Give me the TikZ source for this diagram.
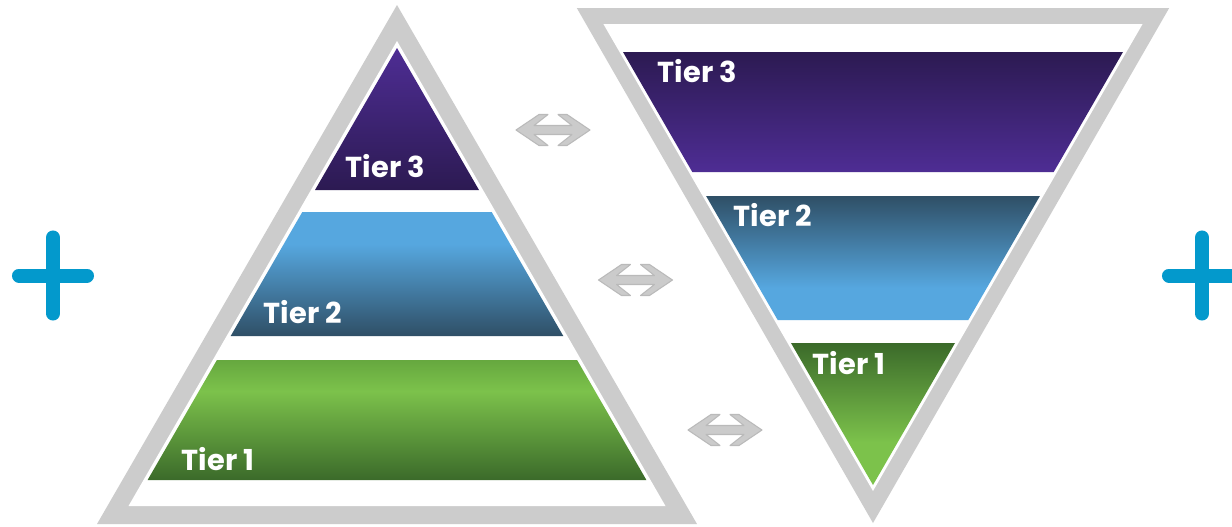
\documentclass[tikz,border=0pt]{standalone}
\usepackage{fontspec}
\newfontfamily\tierfont{Poppins}
\definecolor{framegray}{HTML}{CCCCCC}
\definecolor{arrowgray}{HTML}{CBCBCB}
\definecolor{arrowedge}{HTML}{BABABA}
\definecolor{plusblue}{HTML}{0399CC}
\definecolor{purpleL}{HTML}{4E2D94}
\definecolor{purpleD}{HTML}{2C1A52}
\definecolor{blueL}{HTML}{56A7DF}
\definecolor{blueM}{HTML}{4686B0}
\definecolor{blueD}{HTML}{2F4F66}
\definecolor{greenL}{HTML}{7CC24B}
\definecolor{greenT}{HTML}{66A83F}
\definecolor{greenD}{HTML}{3B6A2A}
\pgfdeclareverticalshading{tieronedown}{100bp}{color(0bp)=(greenD); color(25bp)=(greenD); color(62bp)=(greenL); color(75bp)=(greenT); color(100bp)=(greenT)}
\pgfdeclareverticalshading{tieroneup}{100bp}{color(0bp)=(greenL); color(25bp)=(greenL); color(40bp)=(greenL); color(75bp)=(greenD); color(100bp)=(greenD)}
\pgfdeclareverticalshading{tiertwodown}{100bp}{color(0bp)=(blueD); color(25bp)=(blueD); color(62bp)=(blueL); color(75bp)=(blueL); color(100bp)=(blueL)}
\pgfdeclareverticalshading{tiertwoup}{100bp}{color(0bp)=(blueL); color(25bp)=(blueL); color(38bp)=(blueL); color(75bp)=(blueD); color(100bp)=(blueD)}
\tikzset{
  tierlabel/.style={font=\tierfont\bfseries\fontsize{8.2}{9}\selectfont, text=white, anchor=base west, inner sep=0pt},
  frame/.style={fill=framegray},
  hole/.style={fill=white},
  plusbar/.style={draw=plusblue, line width=0.14cm, line cap=round},
  dblarrow/.pic={
    \filldraw[fill=arrowgray, draw=arrowedge, line width=0.3pt, line join=round]
      (37,0) -- (14,-15.5) -- (5,-15.5) -- (19,-4.5) -- (-19,-4.5) -- (-5,-15.5) -- (-14,-15.5) -- (-37,0)
      -- (-14,15.5) -- (-5,15.5) -- (-19,4.5) -- (19,4.5) -- (5,15.5) -- (14,15.5) -- cycle;
  }
}
\begin{document}
\begin{tikzpicture}[x=0.01cm,y=-0.01cm]
\useasboundingbox (0,0) rectangle (1232,526);
\clip (0,0) rectangle (1232,526);
\fill[white] (0,0) rectangle (1232,526);

% ---------- left pyramid ----------
\fill[frame] (397,5) -- (697,524) -- (97,524) -- cycle;
\fill[hole] (397,41) -- (665.5,506) -- (128.5,506) -- cycle;
\shade[top color=purpleL, bottom color=purpleD] (397,48) -- (479,190) -- (315,190) -- cycle;
\shade[shading=tiertwodown] (302.3,212) -- (491.7,212) -- (563.3,336) -- (230.7,336) -- cycle;
\shade[shading=tieronedown] (216.9,360) -- (577.1,360) -- (646.4,480) -- (147.6,480) -- cycle;
\node[tierlabel] (l3) at (345,177) {Tier 3};
\node[tierlabel] (l2) at (263,323) {Tier 2};
\node[tierlabel] (l1) at (181,470) {Tier 1};

% ---------- right inverted pyramid ----------
\fill[frame] (576.8,8) -- (1169.2,8) -- (873,523) -- cycle;
\fill[hole] (603.4,24) -- (1142.6,24) -- (873,491) -- cycle;
\shade[top color=purpleD, bottom color=purpleL] (623,52) -- (1123,52) -- (1053.7,172) -- (692.3,172) -- cycle;
\shade[shading=tiertwoup] (706.1,196) -- (1039.9,196) -- (968.3,320) -- (777.7,320) -- cycle;
\shade[shading=tieroneup] (791,343) -- (955,343) -- (873,485) -- cycle;
\node[tierlabel] (r3) at (657,82) {Tier 3};
\node[tierlabel] (r2) at (733,226) {Tier 2};
\node[tierlabel] (r1) at (812,374) {Tier 1};

% ---------- double arrows ----------
\pic (a3) at (553,130) {dblarrow};
\pic (a2) at (635.5,280) {dblarrow};
\pic (a1) at (725,430) {dblarrow};

% ---------- plus signs ----------
\coordinate (pl) at (53,275.5);
\draw[plusbar] ([xshift=-0.34cm]pl) -- ([xshift=0.34cm]pl);
\draw[plusbar] ([yshift=0.38cm]pl) -- ([yshift=-0.38cm]pl);
\coordinate (pr) at (1202,275.5);
\draw[plusbar] ([xshift=-0.33cm]pr) -- ([xshift=0.45cm]pr);
\draw[plusbar] ([yshift=0.38cm]pr) -- ([yshift=-0.38cm]pr);
\end{tikzpicture}
\end{document}
